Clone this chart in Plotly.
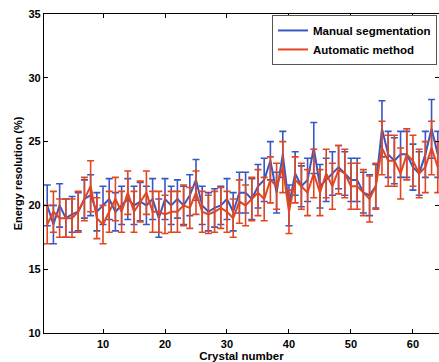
import plotly.graph_objects as go

crystal = list(range(1, 65))

manual = [20.0, 18.5, 20.0, 19.0, 19.3, 19.5, 20.5, 20.8, 19.5, 20.0,
          20.5, 19.5, 20.0, 20.5, 20.0, 20.3, 20.0, 20.5, 19.0, 20.5,
          20.0, 20.5, 20.0, 20.8, 22.0, 20.0, 19.5, 19.8, 20.0, 20.5,
          19.5, 21.0, 21.0, 20.5, 21.5, 22.0, 23.5, 21.0, 24.0, 20.0,
          22.5, 21.5, 22.0, 24.5, 21.5, 22.0, 22.5, 23.0, 22.5, 22.0,
          22.0, 21.0, 20.8, 21.5, 26.0, 24.0, 23.5, 24.0, 24.0, 23.0,
          22.5, 24.0, 26.0, 24.0]
manual_err = [1.6, 1.5, 1.7, 1.5, 1.4, 1.5, 1.5, 1.6, 1.5, 1.5,
              1.6, 1.5, 1.5, 1.6, 1.5, 1.5, 1.5, 1.6, 1.5, 1.6,
              1.5, 1.5, 1.5, 1.6, 1.6, 1.5, 1.5, 1.5, 1.5, 1.6,
              1.5, 1.6, 1.6, 1.6, 1.7, 1.7, 1.5, 1.6, 1.8, 1.6,
              1.7, 1.6, 1.7, 2.0, 1.7, 1.7, 1.7, 1.7, 1.7, 1.7,
              1.7, 1.6, 1.6, 1.7, 2.2, 1.8, 1.8, 1.8, 1.8, 1.8,
              1.7, 1.8, 2.3, 1.8]

automatic = [18.5, 19.5, 19.0, 19.0, 19.0, 19.5, 20.5, 21.5, 19.0, 18.5,
             19.5, 20.5, 19.5, 21.0, 19.5, 20.3, 21.0, 19.5, 19.5, 19.3,
             19.5, 19.5, 20.0, 19.8, 21.0, 19.5, 19.3, 19.5, 19.8, 19.5,
             19.0, 20.3, 20.0, 20.5, 21.0, 20.5, 22.0, 21.5, 23.0, 19.5,
             22.0, 21.5, 21.0, 22.5, 21.0, 22.5, 21.5, 22.8, 22.5, 21.5,
             21.5, 21.0, 20.5, 21.5, 24.5, 23.5, 23.5, 22.5, 24.0, 23.5,
             22.5, 23.0, 24.5, 23.0]
automatic_err = [1.5, 1.6, 1.5, 1.5, 1.5, 1.6, 1.7, 2.0, 1.6, 1.5,
                 1.6, 1.7, 1.6, 1.7, 1.6, 1.6, 1.7, 1.6, 1.6, 1.5,
                 1.6, 1.6, 1.6, 1.6, 1.7, 1.6, 1.5, 1.6, 1.6, 1.6,
                 1.5, 1.7, 1.6, 1.7, 1.8, 1.7, 1.8, 1.8, 2.0, 1.7,
                 1.8, 1.8, 1.8, 1.9, 1.8, 1.9, 1.8, 1.9, 1.9, 1.8,
                 1.8, 1.8, 1.8, 1.8, 2.1, 2.0, 2.0, 2.0, 2.0, 2.0,
                 1.9, 2.0, 2.1, 2.0]

BLUE = "#3a56c4"
RED = "#e2461f"
FONT = "Liberation Sans, Arial, sans-serif"

fig = go.Figure()
fig.add_trace(go.Scatter(
    x=crystal, y=manual, mode="lines", name="Manual segmentation",
    line=dict(color=BLUE, width=2),
    error_y=dict(type="data", array=manual_err, visible=True,
                 color=BLUE, thickness=1.6, width=3.5),
))
fig.add_trace(go.Scatter(
    x=crystal, y=automatic, mode="lines", name="Automatic method",
    line=dict(color=RED, width=2),
    error_y=dict(type="data", array=automatic_err, visible=True,
                 color=RED, thickness=1.6, width=3.5),
))

axis_common = dict(
    showline=True, linecolor="black", linewidth=1.2, mirror="allticks",
    ticks="inside", ticklen=4, tickcolor="black", showgrid=False,
    zeroline=False,
    tickfont=dict(family=FONT, size=11, color="black", weight="bold"),
)

fig.update_layout(
    width=439, height=362,
    margin=dict(l=44, r=0, t=14, b=29),
    paper_bgcolor="white", plot_bgcolor="white",
    showlegend=True,
    legend=dict(
        x=0.995, y=0.997, xanchor="right", yanchor="top",
        bgcolor="white", bordercolor="#555", borderwidth=1,
        font=dict(family=FONT, size=11.5, color="black", weight="bold"),
        tracegroupgap=0, itemwidth=30,
    ),
    xaxis=dict(
        range=[0.48, 64.2], tickvals=[10, 20, 30, 40, 50, 60],
        ticklabelstandoff=1,
        title=dict(text="Crystal number", standoff=0,
                   font=dict(family=FONT, size=11.5, color="black", weight="bold")),
        **axis_common,
    ),
    yaxis=dict(
        range=[10, 35], tickvals=[10, 15, 20, 25, 30, 35],
        title=dict(text="Energy resolution (%)", standoff=3,
                   font=dict(family=FONT, size=11, color="black", weight="bold")),
        **axis_common,
    ),
)

fig.write_html("out.html")
